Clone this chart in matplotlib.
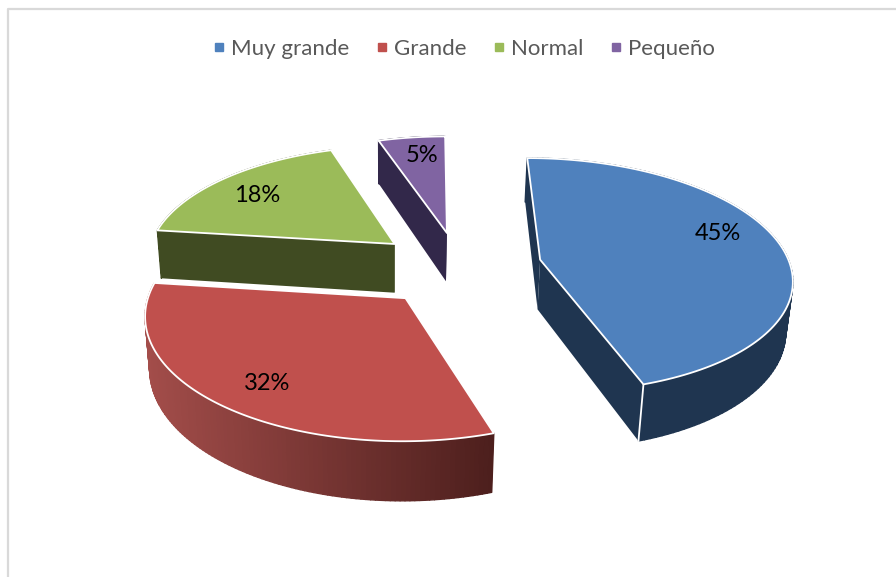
import numpy as np
import matplotlib
matplotlib.use('Agg')
import matplotlib.pyplot as plt
from matplotlib.collections import PolyCollection
from matplotlib.colors import to_rgb
from matplotlib.lines import Line2D

plt.rcParams['font.family'] = ['Lato', 'DejaVu Sans']

categories = ['Muy grande', 'Grande', 'Normal', 'Pequeño']
values = [45, 32, 18, 5]

face_colors = ['#4F81BD', '#C0504D', '#9BBB59', '#8064A2']
wall_colors = ['#1F3550', '#A34D4A', '#404B22', '#32284A']
explode = [0.348, 0.294, 0.318, 0.27]
nudge = [(1, 1), (-1, 6), (1, 2), (4, -2)]
label_xy = [(718, 234), (267, 384), (257, 195), (422, 156)]

# perspective of the disc, all in pixels of the figure
X0, Y0 = 454.0, 265.0
A, B = 250.0, 116.5
K = 0.131
SHEAR = 0.03
DROP = 50.0
VX, VDIST = 392.0, 2850.0


def project(p, q):
    w = 1 + K * q
    y = Y0 - B * q / w
    return X0 + A * p / w + SHEAR * (y - Y0), y, DROP / w


def top_and_bottom(p, q, off):
    x, y, h = project(np.asarray(p), np.asarray(q))
    x, y = x + off[0], y + off[1]
    top = np.column_stack([x, y])
    bottom = np.column_stack([x + (VX - x) * h / VDIST, y + h])
    return top, bottom


fig = plt.figure(figsize=(8.96, 5.77), dpi=100)
ax = fig.add_axes([0, 0, 1, 1])
ax.set_xlim(0, 896)
ax.set_ylim(577, 0)
ax.axis('off')

# chart frame, only the top and left sides show
ax.plot([8, 8, 896], [577, 8.5, 8.5], color='#D9D9D9', lw=1.6, zorder=1)

total = sum(values)
edges = np.concatenate([[0], np.cumsum(values)]) / total * 2 * np.pi
draw_order = [3, 2, 0, 1]

for n, i in enumerate(draw_order):
    base = 10 + n * 10
    t0, t1 = edges[i], edges[i + 1]
    mid = (t0 + t1) / 2
    cx, cy = explode[i] * np.sin(mid), explode[i] * np.cos(mid)
    t = np.linspace(t0, t1, 120)
    p = cx + np.sin(t)
    q = cy + np.cos(t)
    top, bot = top_and_bottom(p, q, nudge[i])
    atop, abot = top_and_bottom([cx], [cy], nudge[i])

    # radial walls first, the arc wall goes over them
    for k in (0, -1):
        ax.fill([atop[0, 0], top[k, 0], bot[k, 0], abot[0, 0]],
                [atop[0, 1], top[k, 1], bot[k, 1], abot[0, 1]],
                color=wall_colors[i] if i != 1 else '#4D1F1D', lw=0, zorder=base)

    quads = [np.vstack([top[j], top[j + 1], bot[j + 1], bot[j]]) for j in range(len(t) - 1)]
    if i == 1:
        c0 = np.array(to_rgb(wall_colors[i]))
        c1 = np.array(to_rgb('#4D1F1D'))
        xs = top[:-1, 0]
        f = (xs - xs.min()) / (xs.max() - xs.min())
        # darker to the right
        cols = [c0 + (c1 - c0) * v for v in f]
    else:
        cols = [wall_colors[i]] * len(quads)
    ax.add_collection(PolyCollection(quads, facecolors=cols, edgecolors=cols, linewidths=1.0, zorder=base + 1))

    # top face
    poly = np.vstack([atop, top])
    ax.fill(poly[:, 0], poly[:, 1], facecolor=face_colors[i], edgecolor='white', lw=1.3,
            joinstyle='round', zorder=base + 3)
    ax.plot([top[-1, 0], bot[-1, 0]], [top[-1, 1], bot[-1, 1]], color='white', lw=1.3, zorder=base + 2)
    ax.text(label_xy[i][0], label_xy[i][1], f'{values[i]}%', fontsize=17, color='black',
            ha='center', va='center', zorder=100)

handles = [Line2D([], [], linestyle='none', marker='s', markersize=5.8, color=c) for c in face_colors]
ax.legend(handles, categories, loc='center', bbox_to_anchor=(462.5 / 896, 1 - 49 / 577), ncol=4,
          frameon=False, fontsize=16, labelcolor='#595959', handlelength=0.8, handletextpad=0.14,
          columnspacing=1.06)

fig.savefig('out.png', dpi=100)
